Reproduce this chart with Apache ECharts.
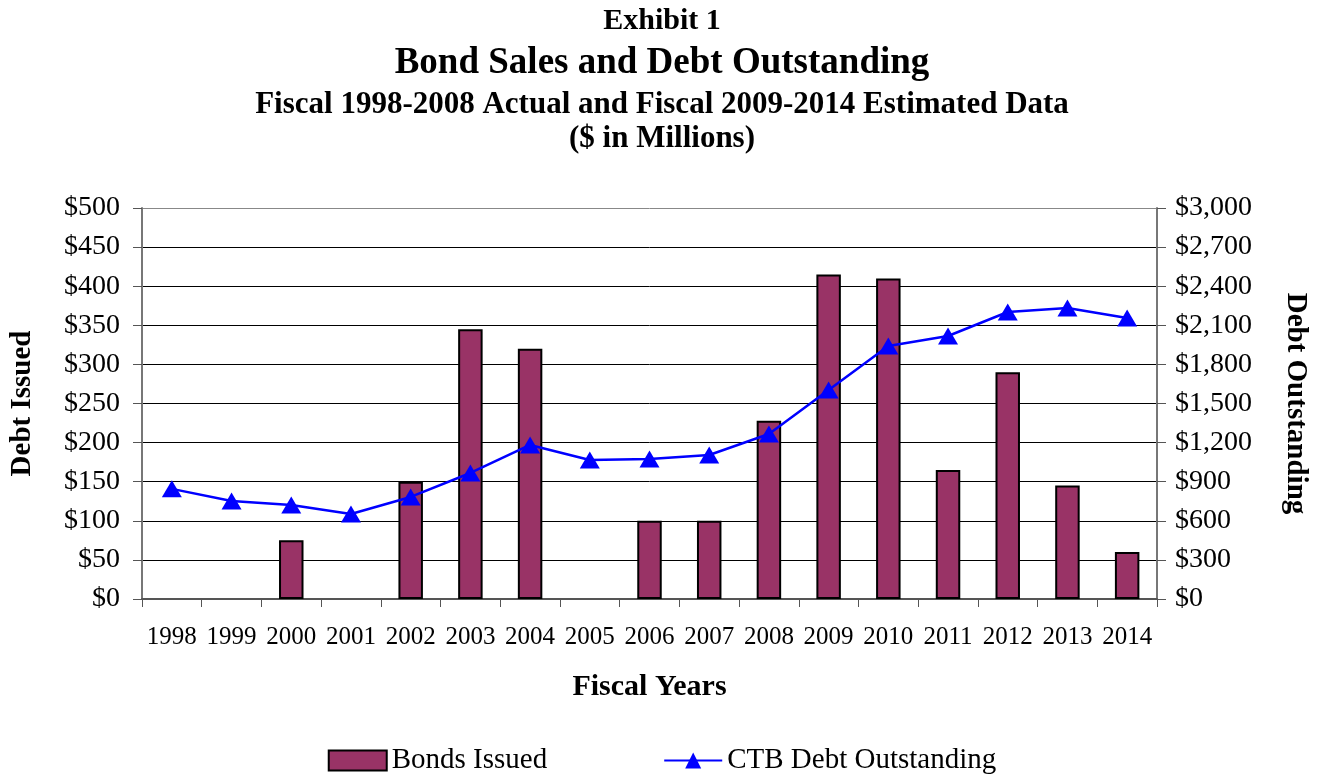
<!DOCTYPE html>
<html>
<head>
<meta charset="utf-8">
<script src="https://cdn.jsdelivr.net/npm/echarts@6/dist/echarts.min.js"></script>
<style>
html,body{margin:0;padding:0;background:#fff;}
#chart{width:1324px;height:775px;}
</style>
</head>
<body>
<div id="chart"></div>
<script>
const years = ['1998','1999','2000','2001','2002','2003','2004','2005','2006','2007','2008','2009','2010','2011','2012','2013','2014'];
const bondsIssued = [null,null,75,null,150,345,320,null,100,100,228,415,410,165,290,145,60];
const debtOutstanding = [845,752,721,652,783,967,1182,1066,1074,1105,1266,1604,1941,2018,2202,2233,2156];

const FONT = 'Liberation Serif';
const chart = echarts.init(document.getElementById('chart'));
const money = v => '$' + v.toLocaleString('en-US');

chart.setOption({
  backgroundColor: '#fff',
  animation: false,
  textStyle: { fontFamily: FONT, color: '#000' },
  title: [
    { text: 'Exhibit 1', left: 'center', top: 1, textStyle: { fontFamily: FONT, fontSize: 30, fontWeight: 'bold', color: '#000' } },
    { text: 'Bond Sales and Debt Outstanding', left: 'center', top: 40, textStyle: { fontFamily: FONT, fontSize: 37, fontWeight: 'bold', color: '#000' } },
    { text: 'Fiscal 1998-2008 Actual and Fiscal 2009-2014 Estimated Data', left: 'center', top: 84, textStyle: { fontFamily: FONT, fontSize: 31, fontWeight: 'bold', color: '#000' } },
    { text: '($ in Millions)', left: 'center', top: 118, textStyle: { fontFamily: FONT, fontSize: 31, fontWeight: 'bold', color: '#000' } }
  ],
  grid: { left: 142, right: 167, top: 208, bottom: 176 },
  legend: {
    top: 741,
    left: 'center',
    itemWidth: 58,
    itemHeight: 20,
    itemGap: 116,
    textStyle: { fontFamily: FONT, fontSize: 29, color: '#000' },
    data: [
      { name: 'Bonds Issued', icon: 'rect' },
      { name: 'CTB Debt Outstanding' }
    ]
  },
  xAxis: {
    type: 'category',
    data: years,
    boundaryGap: true,
    name: 'Fiscal Years',
    nameLocation: 'middle',
    nameGap: 73,
    nameTextStyle: { fontFamily: FONT, fontSize: 30, fontWeight: 'bold', color: '#000' },
    axisLine: { lineStyle: { color: '#555', width: 2 } },
    axisTick: { show: true, interval: 0, length: 8, lineStyle: { color: '#555', width: 1 } },
    axisLabel: { interval: 0, fontFamily: FONT, fontSize: 25, color: '#000', margin: 26 }
  },
  yAxis: [
    {
      type: 'value', min: 0, max: 500, interval: 50, position: 'left',
      name: 'Debt Issued', nameLocation: 'middle', nameGap: 105,
      nameTextStyle: { fontFamily: FONT, fontSize: 29, fontWeight: 'bold', color: '#000' },
      axisLine: { show: true, lineStyle: { color: '#777', width: 2 } },
      axisTick: { show: true, length: 9, lineStyle: { color: '#555' } },
      axisLabel: { fontFamily: FONT, fontSize: 28, color: '#000', margin: 22, formatter: money },
      splitLine: { show: true, lineStyle: { color: ['#000','#000','#000','#000','#000','#000','#000','#000','#000','#000','#888'], width: 1 } }
    },
    {
      type: 'value', min: 0, max: 3000, interval: 300, position: 'right',
      name: 'Debt Outstanding', nameLocation: 'middle', nameGap: 124, nameRotate: -90,
      nameTextStyle: { fontFamily: FONT, fontSize: 29, fontWeight: 'bold', color: '#000' },
      axisLine: { show: true, lineStyle: { color: '#777', width: 2 } },
      axisTick: { show: true, length: 9, lineStyle: { color: '#555' } },
      axisLabel: { fontFamily: FONT, fontSize: 28, color: '#000', margin: 18, formatter: money },
      splitLine: { show: false }
    }
  ],
  series: [
    {
      name: 'Bonds Issued',
      type: 'bar',
      yAxisIndex: 0,
      data: bondsIssued,
      barWidth: '41%',
      itemStyle: { color: '#993366', borderColor: '#000', borderWidth: 2 }
    },
    {
      name: 'CTB Debt Outstanding',
      type: 'line',
      yAxisIndex: 1,
      data: debtOutstanding,
      symbol: 'triangle',
      symbolSize: [20, 17],
      lineStyle: { color: '#0000ff', width: 2.5 },
      itemStyle: { color: '#0000ff' }
    }
  ]
});
</script>
</body>
</html>
